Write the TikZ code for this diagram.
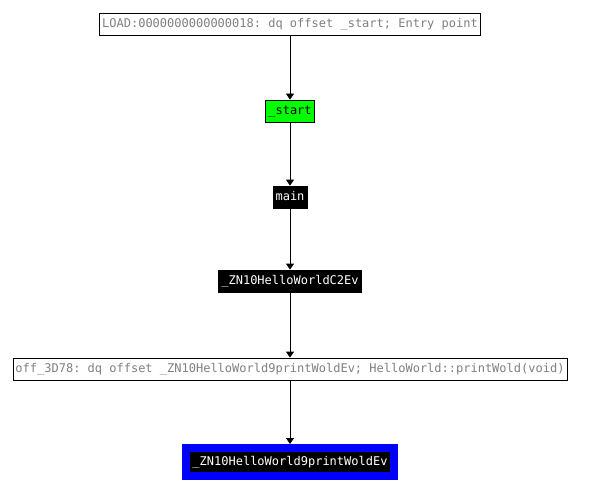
\documentclass[tikz,border=0pt]{standalone}
\usepackage{fontspec}
\setmonofont{DejaVu Sans Mono}
\usetikzlibrary{arrows.meta,positioning}
\usepackage{xcolor}
\definecolor{idagray}{HTML}{808080}
\definecolor{idagreen}{HTML}{00FF00}
\definecolor{idablue}{HTML}{0000FF}

\begin{document}
\begin{tikzpicture}[x=1pt,y=-1pt,font=\ttfamily\fontsize{12}{14}\selectfont,
    blk/.style={draw=black,line width=0.8pt,inner xsep=2.5pt,inner ysep=0pt,
      minimum height=22pt,text height=8.5pt,text depth=2pt},
    plainblk/.style={blk,fill=white,text=idagray},
    darkblk/.style={blk,fill=black,text=white},
    link/.style={draw=black,line width=0.8pt,-{Triangle[width=8pt,length=6pt]}}]
  \useasboundingbox (0,0) rectangle (595,503);
  \node[plainblk] (entry) at (290,24) {LOAD:0000000000000018: dq offset \_start; Entry point};
  \node[blk,fill=idagreen] (start) at (290,111) {\_start};
  \node[darkblk] (main) at (290,197) {main};
  \node[darkblk] (ctor) at (290,281) {\_ZN10HelloWorldC2Ev};
  \node[plainblk] (vtbl) at (290,369) {off\_3D78: dq offset \_ZN10HelloWorld9printWoldEv; HelloWorld::printWold(void)};
  \node[darkblk,draw=idablue,line width=8pt,inner xsep=6pt,minimum height=28pt] (print) at (290,462) {\_ZN10HelloWorld9printWoldEv};
  \foreach \a/\b in {entry/start,start/main,main/ctor,ctor/vtbl,vtbl/print}
    \draw[link] (\a) -- (\b);
\end{tikzpicture}
\end{document}
